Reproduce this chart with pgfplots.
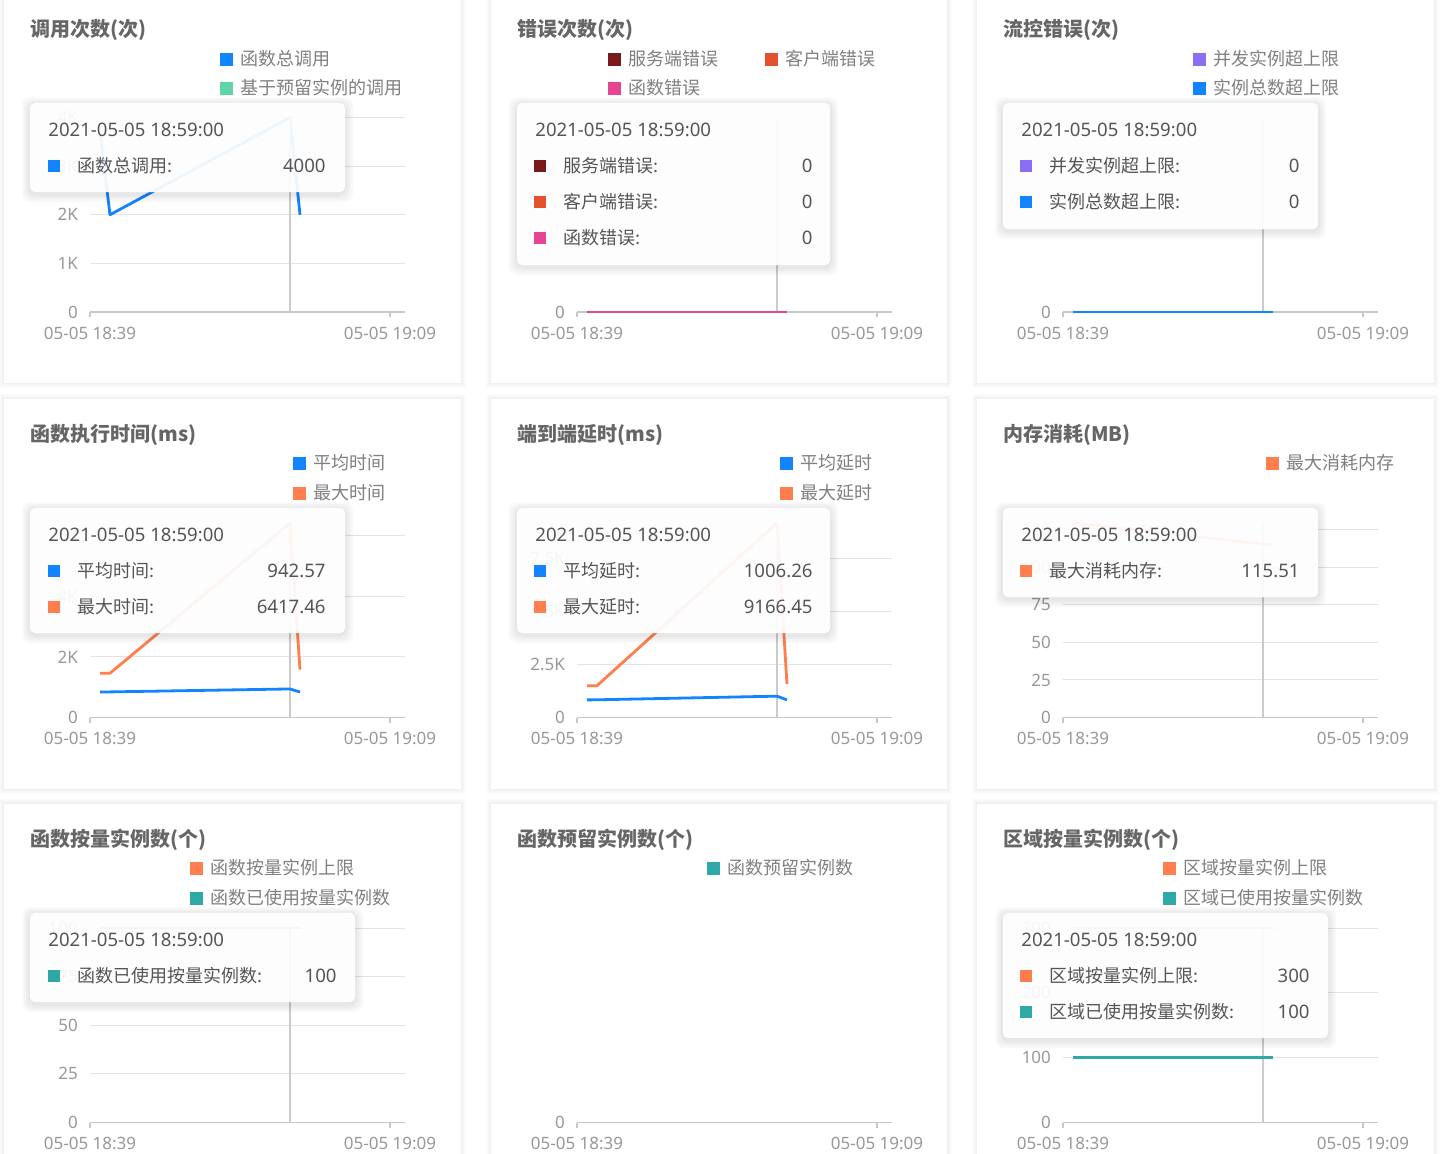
\documentclass[border=0pt]{standalone}
\usepackage{pgfplots}
\pgfplotsset{compat=1.18}
\usepackage{fontspec}
\setmainfont{Noto Sans CJK SC}
\newfontfamily\latin{Noto Sans}
\definecolor{cblue}{HTML}{1284FF}
\definecolor{cgreen}{HTML}{5DD5A5}
\definecolor{cdred}{HTML}{7A1A1A}
\definecolor{cored}{HTML}{E5502F}
\definecolor{cpink}{HTML}{E54592}
\definecolor{cpurple}{HTML}{8A6EF4}
\definecolor{corange}{HTML}{FF7E4D}
\definecolor{cteal}{HTML}{2EA9A6}
\definecolor{axgray}{HTML}{C8C8C8}
\definecolor{gridgray}{HTML}{E3E3E3}
\definecolor{ptrgray}{HTML}{CBCBCB}
\definecolor{tickgray}{HTML}{999999}
\definecolor{titlegray}{HTML}{666666}
\definecolor{leggray}{HTML}{808080}
\definecolor{tiptext}{HTML}{555555}
\newcommand{\tickfont}{\latin\fontsize{8.5}{9.5}\selectfont}
\newcommand{\legfont}{\fontsize{9}{10}\selectfont}
\newcommand{\numfont}{\latin\fontsize{9.3}{10.5}\selectfont}
\newcommand{\titfont}{\fontsize{10}{12}\selectfont\bfseries}
\pgfplotsset{
 panel/.style={
  scale only axis, width=157.5pt, height=97.25pt,
  xmin=0, xmax=31.5, ymin=0,
  axis x line*=bottom, axis y line*=left,
  y axis line style={draw=none},
  x axis line style={draw=axgray, line width=0.7pt},
  xtick={0,30}, xticklabels={05-05 18:39,05-05 19:09},
  xtick align=outside, major tick length=2.5pt,
  xtick style={draw=axgray, line width=0.6pt},
  ytick style={draw=none},
  ymajorgrids, grid style={draw=gridgray, line width=0.5pt},
  tick label style={font=\tickfont, text=tickgray},
  /pgf/number format/assume math mode=true,
  yticklabel style={xshift=-2.5pt},
  xticklabel style={yshift=-1.5pt},
  clip=false,
  every axis plot/.append style={line width=1.4pt, mark=none, line join=round},
 }
}
% tooltip box: x1,y1,x2,y2 (px)
\newcommand{\tip}[4]{%
 \foreach \s in {8,6,4,2} {\fill[black, opacity=0.025, rounded corners=4pt] (#1-\s,#2-\s+2) rectangle (#3+\s,#4+\s+2);}
 \fill[white, opacity=0.93, rounded corners=2.5pt] (#1,#2) rectangle (#3,#4);
}
\newcommand{\card}[4]{%
 \foreach \s in {5,4,3,2,1} {\fill[black, opacity=0.011] (#1-\s,#2-\s) rectangle (#3+\s,#4+\s);}
 \fill[white] (#1,#2) rectangle (#3,#4);
}
% square: color, x, y, half-size
\newcommand{\sq}[4]{\fill[#1] (#2-#4,#3-#4) rectangle (#2+#4,#3+#4);}
\newcommand{\legitem}[5]{% color, sqx, textx, y, text
 \sq{#1}{#2}{#4}{6.5}
 \node[anchor=west, inner sep=0, font=\legfont, text=leggray] at (#3,#4) {#5};
}
\newcommand{\tipitem}[7]{% color, sqx, labelx, valx, y, label, value
 \sq{#1}{#2}{#5}{6}
 \node[anchor=west, inner sep=0, font=\legfont, text=tiptext] at (#3,#5) {#6};
 \node[anchor=east, inner sep=0, font=\numfont, text=tiptext] at (#4,#5) {#7};
}
\newcommand{\tipdate}[2]{\node[anchor=west, inner sep=0, font=\numfont, text=tiptext] at (#1,#2) {2021-05-05 18:59:00};}
\newcommand{\ttl}[3]{\node[anchor=west, inner sep=0, font=\titfont, text=titlegray] at (#1,#2) {#3};}
\begin{document}
\begin{tikzpicture}[x=0.5pt, y=-0.5pt]
\useasboundingbox (0,0) rectangle (1452,1153);
\fill[white] (0,0) rectangle (1452,1153);
% cards
\card{4}{-20}{461}{383}
\card{491}{-20}{947}{383}
\card{977}{-20}{1434}{383}
\card{4}{399}{461}{789}
\card{491}{399}{947}{789}
\card{977}{399}{1434}{789}
\card{4}{804}{461}{1180}
\card{491}{804}{947}{1180}
\card{977}{804}{1434}{1180}

% ---------- Panel 1 ----------
\begin{axis}[panel, at={(45pt,-156pt)}, anchor=south west,
  ymax=4000, ytick={0,1000,2000,3000,4000}, yticklabels={0,1K,2K,3K,4K}]
\addplot[cblue] coordinates {(1,3700) (2,2000) (20,4000) (21,2000)};
\draw[ptrgray, line width=0.7pt] (axis cs:20,0) -- (axis cs:20,4000);
\end{axis}
% ---------- Panel 2 ----------
\begin{axis}[panel, at={(288.5pt,-156pt)}, anchor=south west,
  ymax=1, ytick={0}, yticklabels={0}]
\draw[ptrgray, line width=0.7pt] (axis cs:20,0) -- (axis cs:20,1);
\addplot[cdred] coordinates {(1,0) (2,0) (20,0) (21,0)};
\addplot[cored] coordinates {(1,0) (2,0) (20,0) (21,0)};
\addplot[cpink] coordinates {(1,0) (2,0) (20,0) (21,0)};
\end{axis}
% ---------- Panel 3 ----------
\begin{axis}[panel, at={(531.5pt,-156pt)}, anchor=south west,
  ymax=1, ytick={0}, yticklabels={0}]
\draw[ptrgray, line width=0.7pt] (axis cs:20,0) -- (axis cs:20,1);
\addplot[cpurple] coordinates {(1,0) (2,0) (20,0) (21,0)};
\addplot[cblue] coordinates {(1,0) (2,0) (20,0) (21,0)};
\end{axis}
% ---------- Panel 4 ----------
\begin{axis}[panel, at={(45pt,-358.75pt)}, anchor=south west,
  ymax=6417.46, ytick={0,2000,4000,6000}, yticklabels={0,2K,4K,6K}]
\draw[ptrgray, line width=0.7pt] (axis cs:20,0) -- (axis cs:20,6417.46);
\addplot[cblue] coordinates {(1,840) (2,845) (20,942.57) (21,840)};
\addplot[corange] coordinates {(1,1460) (2,1460) (20,6417.46) (21,1580)};
\end{axis}
% ---------- Panel 5 ----------
\begin{axis}[panel, at={(288.5pt,-358.75pt)}, anchor=south west,
  ymax=9166.45, ytick={0,2500,5000,7500}, yticklabels={0,2.5K,5K,7.5K}]
\draw[ptrgray, line width=0.7pt] (axis cs:20,0) -- (axis cs:20,9166.45);
\addplot[cblue] coordinates {(1,830) (2,835) (20,1006.26) (21,830)};
\addplot[corange] coordinates {(1,1500) (2,1500) (20,9166.45) (21,1580)};
\end{axis}
% ---------- Panel 6 ----------
\begin{axis}[panel, at={(531.5pt,-358.75pt)}, anchor=south west,
  ymax=129.5, ytick={0,25,50,75,100,125}, yticklabels={0,25,50,75,100,125}]
\draw[ptrgray, line width=0.7pt] (axis cs:20,0) -- (axis cs:20,129.5);
\addplot[corange] coordinates {(1,129.5) (2,128.8) (20,115.51) (21,115)};
\end{axis}
% ---------- Panel 7 ----------
\begin{axis}[panel, at={(45pt,-561.25pt)}, anchor=south west,
  ymax=100, ytick={0,25,50,75,100}, yticklabels={0,25,50,75,100}]
\draw[ptrgray, line width=0.7pt] (axis cs:20,0) -- (axis cs:20,100);
\addplot[cteal] coordinates {(1,100) (2,100) (20,100) (21,100)};
\end{axis}
% ---------- Panel 8 ----------
\begin{axis}[panel, at={(288.5pt,-561.25pt)}, anchor=south west,
  ymax=1, ytick={0}, yticklabels={0}]
\addplot[draw=none] coordinates {(0,0)};
\end{axis}
% ---------- Panel 9 ----------
\begin{axis}[panel, at={(531.5pt,-561.25pt)}, anchor=south west,
  ymax=300, ytick={0,100,200,300}, yticklabels={0,100,200,300}]
\draw[ptrgray, line width=0.7pt] (axis cs:20,0) -- (axis cs:20,300);
\addplot[corange] coordinates {(1,300) (2,300) (20,300) (21,300)};
\addplot[cteal] coordinates {(1,100) (2,100) (20,100) (21,100)};
\end{axis}

% ---------- titles ----------
\ttl{30}{30}{调用次数(次)}
\ttl{517}{30}{错误次数(次)}
\ttl{1003}{30}{流控错误(次)}
\ttl{30}{435}{函数执行时间(ms)}
\ttl{517}{435}{端到端延时(ms)}
\ttl{1003}{435}{内存消耗(MB)}
\ttl{30}{840}{函数按量实例数(个)}
\ttl{517}{840}{函数预留实例数(个)}
\ttl{1003}{840}{区域按量实例数(个)}

% ---------- legends ----------
\legitem{cblue}{226}{240}{59}{函数总调用}
\legitem{cgreen}{226}{240}{88}{基于预留实例的调用}
\legitem{cdred}{614}{628}{59}{服务端错误}
\legitem{cored}{771}{785}{59}{客户端错误}
\legitem{cpink}{614}{628}{88}{函数错误}
\legitem{cpurple}{1199}{1213}{59}{并发实例超上限}
\legitem{cblue}{1199}{1213}{88}{实例总数超上限}
\legitem{cblue}{299}{313}{463}{平均时间}
\legitem{corange}{299}{313}{493}{最大时间}
\legitem{cblue}{786}{800}{463}{平均延时}
\legitem{corange}{786}{800}{493}{最大延时}
\legitem{corange}{1272}{1286}{463}{最大消耗内存}
\legitem{corange}{196}{210}{868}{函数按量实例上限}
\legitem{cteal}{196}{210}{898}{函数已使用按量实例数}
\legitem{cteal}{713}{727}{868}{函数预留实例数}
\legitem{corange}{1169}{1183}{868}{区域按量实例上限}
\legitem{cteal}{1169}{1183}{898}{区域已使用按量实例数}

% ---------- tooltips ----------
\tip{30}{103}{345}{192}
\tipdate{48}{130}
\tipitem{cblue}{54}{77}{326}{166}{函数总调用:}{4000}

\tip{517}{103}{830}{265}
\tipdate{535}{130}
\tipitem{cdred}{540}{563}{813}{166}{服务端错误:}{0}
\tipitem{cored}{540}{563}{813}{202}{客户端错误:}{0}
\tipitem{cpink}{540}{563}{813}{238}{函数错误:}{0}

\tip{1003}{103}{1318}{229}
\tipdate{1021}{130}
\tipitem{cpurple}{1026}{1049}{1300}{166}{并发实例超上限:}{0}
\tipitem{cblue}{1026}{1049}{1300}{202}{实例总数超上限:}{0}

\tip{30}{508}{345}{633}
\tipdate{48}{535}
\tipitem{cblue}{54}{77}{326}{571}{平均时间:}{942.57}
\tipitem{corange}{54}{77}{326}{607}{最大时间:}{6417.46}

\tip{517}{508}{830}{633}
\tipdate{535}{535}
\tipitem{cblue}{540}{563}{813}{571}{平均延时:}{1006.26}
\tipitem{corange}{540}{563}{813}{607}{最大延时:}{9166.45}

\tip{1003}{508}{1318}{597}
\tipdate{1021}{535}
\tipitem{corange}{1026}{1049}{1300}{571}{最大消耗内存:}{115.51}

\tip{30}{913}{355}{1002}
\tipdate{48}{940}
\tipitem{cteal}{54}{77}{337}{976}{函数已使用按量实例数:}{100}

\tip{1003}{913}{1328}{1038}
\tipdate{1021}{940}
\tipitem{corange}{1026}{1049}{1310}{976}{区域按量实例上限:}{300}
\tipitem{cteal}{1026}{1049}{1310}{1012}{区域已使用按量实例数:}{100}
\end{tikzpicture}
\end{document}
